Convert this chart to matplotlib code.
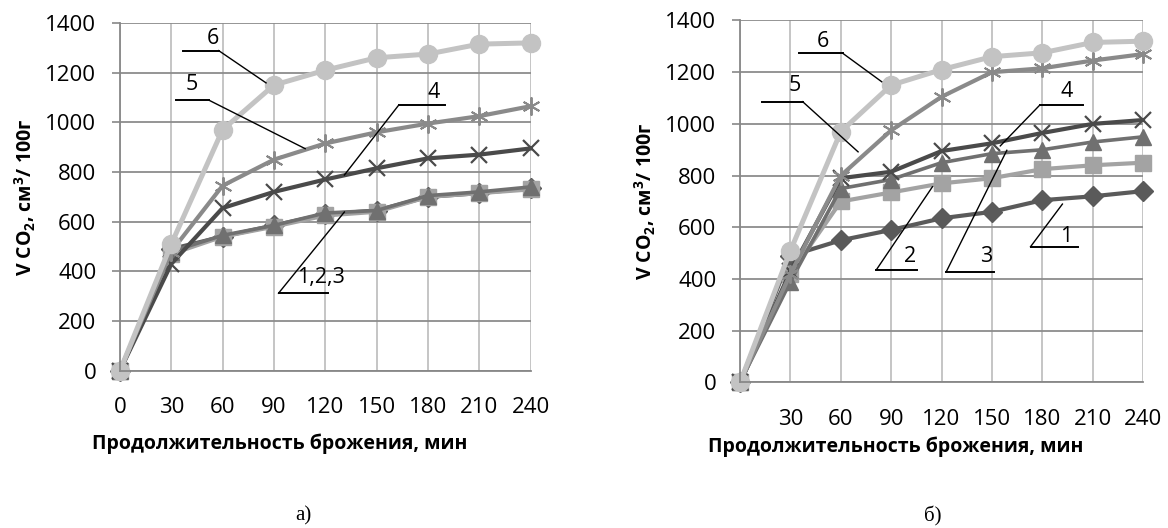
import matplotlib
matplotlib.use("Agg")
import matplotlib.pyplot as plt

plt.rcParams['font.family'] = ['Open Sans', 'DejaVu Sans']
plt.rcParams['mathtext.fontset'] = 'custom'
plt.rcParams['mathtext.bf'] = 'Open Sans:bold'
plt.rcParams['mathtext.rm'] = 'Open Sans'

minutes = [0, 30, 60, 90, 120, 150, 180, 210, 240]
labels_a = ['0', '30', '60', '90', '120', '150', '180', '210', '240']
labels_b = ['', '30', '60', '90', '120', '150', '180', '210', '240']

# panel a)
a1 = [0, 490, 540, 585, 630, 645, 700, 715, 735]
a2 = [0, 470, 540, 580, 625, 640, 700, 715, 730]
a3 = [0, 480, 545, 585, 635, 645, 705, 720, 740]
a4 = [0, 430, 655, 720, 770, 815, 855, 870, 895]
a5 = [0, 480, 745, 850, 915, 960, 995, 1025, 1065]
a6 = [0, 510, 970, 1150, 1210, 1260, 1275, 1315, 1320]

# panel б)
b1 = [0, 490, 550, 590, 635, 660, 705, 720, 740]
b2 = [0, 420, 700, 735, 770, 790, 825, 840, 850]
b3 = [0, 390, 750, 785, 850, 885, 900, 930, 950]
b4 = [0, 430, 790, 815, 895, 925, 965, 1000, 1015]
b5 = [0, 420, 800, 975, 1105, 1200, 1215, 1245, 1270]
b6 = [0, 510, 970, 1150, 1210, 1260, 1275, 1315, 1320]

styles = [
    dict(color='#5a5a5a', marker='D', ms=10, lw=3.0),
    dict(color='#a3a3a3', marker='s', ms=11, lw=3.0),
    dict(color='#707070', marker='^', ms=12, lw=2.6),
    dict(color='#4a4a4a', marker='x', ms=11, lw=3.0, mew=1.6),
    dict(color='#8a8a8a', marker=(6, 2, 0), ms=13, lw=3.0, mew=1.4),
    dict(color='#c3c3c3', marker='o', ms=13, lw=3.6),
]

# callouts: text, text pos, horizontal bar (x0, x1, y), leader start, leader end
notes_a = [
    ('6', (54.6, 1337), (36.9, 57.7, 1289), (57.7, 1289), (85.4, 1159)),
    ('5', (42.1, 1152), (32.9, 52.1, 1089), (52.1, 1089), (108.3, 894)),
    ('4', (183.3, 1119), (162.9, 190.2, 1069), (162.9, 1069), (131.2, 788)),
    ('1,2,3', (117.7, 375), (92.7, 121.4, 312), (92.7, 312), (131.2, 639)),
]
notes_b = [
    ('6', (49.4, 1317), (35.3, 61.2, 1273), (61.2, 1273), (84.4, 1163)),
    ('5', (32.8, 1147), (12.9, 37.3, 1086), (37.3, 1086), (70.3, 892)),
    ('4', (194.6, 1127), (178.4, 204.3, 1072), (178.4, 1072), (155, 915)),
    ('3', (146.6, 486), (122.8, 151.3, 428), (122.8, 428), (158.9, 898)),
    ('2', (101.2, 486), (81.1, 105.5, 435), (81.1, 435), (114.6, 757)),
    ('1', (194, 563), (173, 201, 525), (173, 525), (192, 690)),
]

fig = plt.figure(figsize=(11.68, 5.28), dpi=100)
ax_a = fig.add_axes([0.1027, 0.2979, 0.3515, 0.6585])
ax_b = fig.add_axes([0.6336, 0.2756, 0.3450, 0.6856])


def draw(ax, series, ticklabels, notes):
    for ys, st in zip(series, styles):
        ax.plot(minutes, ys, color=st['color'], lw=st['lw'], marker=st['marker'],
                ms=st['ms'], mew=st.get('mew', 1.0), mfc=st['color'], mec=st['color'],
                clip_on=False, solid_joinstyle='round')
    ax.set_xlim(0, 240)
    ax.set_ylim(0, 1400)
    ax.set_xticks(minutes)
    ax.set_xticklabels(ticklabels)
    ax.set_yticks(range(0, 1401, 200))
    ax.tick_params(axis='x', length=0, pad=19, labelsize=16)
    ax.tick_params(axis='y', length=6, width=1.2, color='#888888', pad=11, labelsize=16)
    ax.grid(axis='x', color='#c0c0c0', lw=1.3)
    ax.grid(axis='y', color='#8c8c8c', lw=1.3)
    ax.set_axisbelow(True)
    for s in ['top', 'right']:
        ax.spines[s].set_visible(False)
    for s in ['left', 'bottom']:
        ax.spines[s].set_color('#888888')
        ax.spines[s].set_linewidth(1.3)
    for txt, tpos, bar, start, end in notes:
        ax.plot([bar[0], bar[1]], [bar[2], bar[2]], color='black', lw=1.4, zorder=5)
        ax.plot([start[0], end[0]], [start[1], end[1]], color='black', lw=1.0, zorder=5)
        ax.text(tpos[0], tpos[1], txt, ha='center', va='center', fontsize=15.5, zorder=6)
    ax.set_ylabel(r'V CO$_\mathbf{2}$, см$^\mathbf{3}$/ 100г', fontsize=14, fontweight='bold')
    ax.set_xlabel('Продолжительность брожения, мин', fontsize=14, fontweight='bold')


draw(ax_a, [a1, a2, a3, a4, a5, a6], labels_a, notes_a)
draw(ax_b, [b1, b2, b3, b4, b5, b6], labels_b, notes_b)

ax_a.yaxis.set_label_coords(-0.2, 0.5)
ax_b.yaxis.set_label_coords(-0.203, 0.5)
ax_a.xaxis.set_label_coords(0.39, -0.182)
ax_b.xaxis.set_label_coords(0.387, -0.150)

fig.text(303 / 1168, 1 - 516 / 528, 'а)', family='Liberation Serif', fontsize=15,
         ha='center', va='center')
fig.text(933 / 1168, 1 - 516 / 528, 'б)', family='Liberation Serif', fontsize=15,
         ha='center', va='center')

fig.savefig('out.png', dpi=100)
